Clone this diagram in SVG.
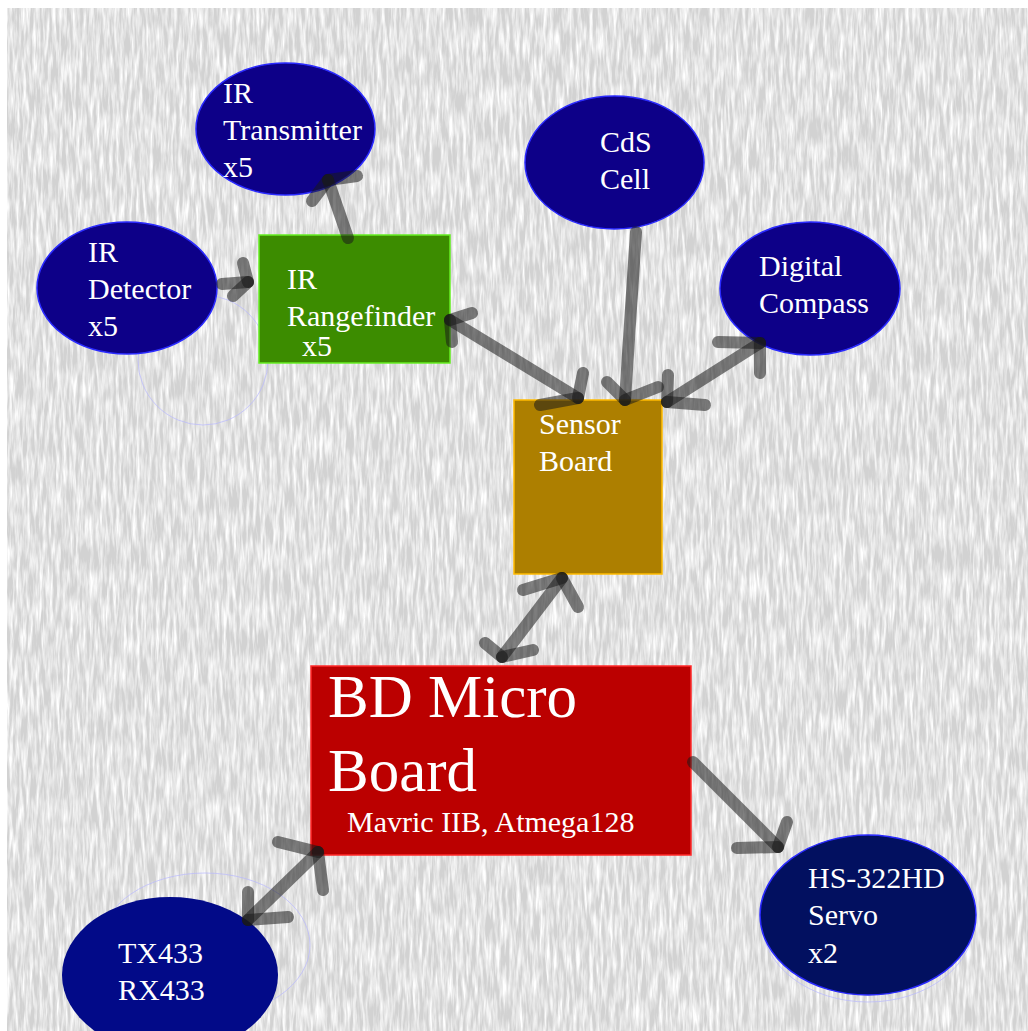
<svg xmlns="http://www.w3.org/2000/svg" width="1028" height="1031" viewBox="0 0 1028 1031">
<style>
.lbl{font-family:"Liberation Serif","Times New Roman",serif;font-size:30px;fill:#ffffff}
.big{font-size:61px}
.ell{fill:#0d0088;stroke:#2a2aff;stroke-width:1.5}
.seg{stroke:#1a1a1a;stroke-opacity:0.55;stroke-width:12;stroke-linecap:round;fill:none}
.ghost{fill:none;stroke:#b8b8ff;stroke-width:1;stroke-opacity:0.7}
</style>
<defs>
<filter id="tex" x="0" y="0" width="100%" height="100%" filterUnits="userSpaceOnUse">
<feTurbulence type="fractalNoise" baseFrequency="0.3 0.035" numOctaves="3" seed="7"/>
<feColorMatrix type="matrix" values="0 0 0 0 1  0 0 0 0 1  0 0 0 0 1  2.2 0 0 0 -0.75"/>
</filter>
</defs>
<rect x="0" y="0" width="1028" height="1031" fill="#ffffff"/>
<rect x="7" y="8" width="1021" height="1023" fill="#d2d2d2"/>
<rect x="7" y="8" width="1021" height="1023" filter="url(#tex)"/>

<g id="ghosts">
<circle class="ghost" cx="203" cy="360" r="65"/>
<ellipse class="ghost" cx="205" cy="945" rx="105" ry="72"/>
<ellipse class="ghost" cx="868" cy="922" rx="106" ry="80"/>
</g>

<g id="ir-transmitter">
<ellipse class="ell" cx="285.5" cy="129" rx="89.5" ry="66"/>
<text class="lbl" x="223" y="103">IR</text>
<text class="lbl" x="223" y="140">Transmitter</text>
<text class="lbl" x="223" y="177">x5</text>
</g>
<g id="ir-detector">
<ellipse class="ell" cx="127" cy="288" rx="90" ry="66"/>
<text class="lbl" x="88" y="262">IR</text>
<text class="lbl" x="88" y="299">Detector</text>
<text class="lbl" x="88" y="336">x5</text>
</g>
<g id="cds-cell">
<ellipse class="ell" cx="614.5" cy="162.5" rx="89.5" ry="66.5"/>
<text class="lbl" x="600" y="152">CdS</text>
<text class="lbl" x="600" y="189">Cell</text>
</g>
<g id="digital-compass">
<ellipse class="ell" cx="810" cy="288.5" rx="90" ry="66.5"/>
<text class="lbl" x="759" y="276">Digital</text>
<text class="lbl" x="759" y="313">Compass</text>
</g>
<g id="ir-rangefinder">
<rect x="259" y="235" width="191" height="128" fill="#3c8c00" stroke="#66ee22" stroke-width="1.5"/>
<text class="lbl" x="287" y="289">IR</text>
<text class="lbl" x="287" y="326">Rangefinder</text>
<text class="lbl" x="302" y="356">x5</text>
</g>
<g id="sensor-board">
<rect x="514" y="400" width="148" height="174" fill="#ad7f00" stroke="#ffbb00" stroke-width="1.5"/>
<text class="lbl" x="539" y="434">Sensor</text>
<text class="lbl" x="539" y="471">Board</text>
</g>
<g id="bd-micro-board">
<rect x="311" y="666" width="380" height="189" fill="#bb0000" stroke="#ff2a2a" stroke-width="1.5"/>
<text class="lbl big" x="328" y="717">BD Micro</text>
<text class="lbl big" x="328" y="791">Board</text>
<text class="lbl" x="347" y="832">Mavric IIB, Atmega128</text>
</g>
<g id="servo">
<ellipse cx="868" cy="915" rx="108" ry="80" fill="#021060" stroke="#2a2aff" stroke-width="1.5"/>
<text class="lbl" x="808" y="888">HS-322HD</text>
<text class="lbl" x="808" y="925">Servo</text>
<text class="lbl" x="808" y="963">x2</text>
</g>
<g id="radio">
<ellipse cx="170" cy="975" rx="108" ry="78" fill="#020a88"/>
<text class="lbl" x="118" y="963">TX433</text>
<text class="lbl" x="118" y="1000">RX433</text>
</g>

<g id="connectors">
<line class="seg" x1="348" y1="238" x2="328" y2="180"/>
<line class="seg" x1="328" y1="180" x2="357" y2="176"/>
<line class="seg" x1="328" y1="180" x2="312" y2="201"/>
<line class="seg" x1="222" y1="284" x2="248" y2="282"/>
<line class="seg" x1="248" y1="282" x2="243" y2="263"/>
<line class="seg" x1="248" y1="282" x2="233" y2="296"/>
<line class="seg" x1="450" y1="320" x2="578" y2="398"/>
<line class="seg" x1="450" y1="320" x2="472" y2="313"/>
<line class="seg" x1="450" y1="320" x2="452" y2="342"/>
<line class="seg" x1="578" y1="398" x2="583" y2="373"/>
<line class="seg" x1="578" y1="398" x2="540" y2="405"/>
<line class="seg" x1="636" y1="232" x2="625" y2="400"/>
<line class="seg" x1="625" y1="400" x2="607" y2="382"/>
<line class="seg" x1="625" y1="400" x2="658" y2="387"/>
<line class="seg" x1="667" y1="402" x2="760" y2="343"/>
<line class="seg" x1="667" y1="402" x2="668" y2="375"/>
<line class="seg" x1="667" y1="402" x2="705" y2="405"/>
<line class="seg" x1="760" y1="343" x2="718" y2="342"/>
<line class="seg" x1="760" y1="343" x2="760" y2="373"/>
<line class="seg" x1="562" y1="578" x2="502" y2="657"/>
<line class="seg" x1="562" y1="578" x2="523" y2="590"/>
<line class="seg" x1="562" y1="578" x2="578" y2="607"/>
<line class="seg" x1="502" y1="657" x2="485" y2="643"/>
<line class="seg" x1="502" y1="657" x2="533" y2="650"/>
<line class="seg" x1="693" y1="762" x2="778" y2="847"/>
<line class="seg" x1="778" y1="847" x2="737" y2="848"/>
<line class="seg" x1="778" y1="847" x2="787" y2="822"/>
<line class="seg" x1="318" y1="852" x2="248" y2="920"/>
<line class="seg" x1="318" y1="852" x2="278" y2="842"/>
<line class="seg" x1="318" y1="852" x2="323" y2="890"/>
<line class="seg" x1="248" y1="920" x2="248" y2="892"/>
<line class="seg" x1="248" y1="920" x2="288" y2="917"/>
</g>
</svg>
